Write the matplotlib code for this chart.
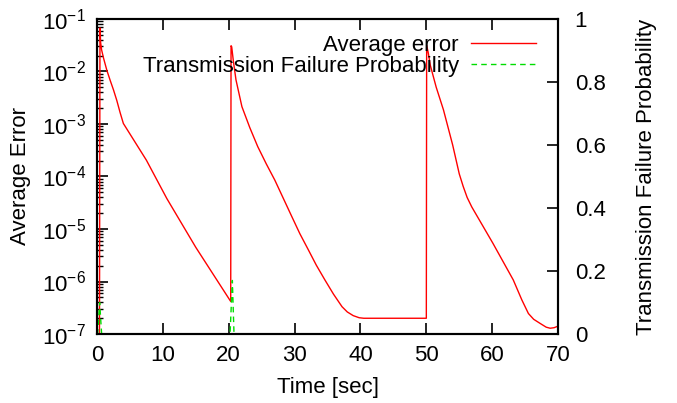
import numpy as np
import matplotlib.pyplot as plt
from matplotlib.ticker import LogLocator, NullFormatter, MultipleLocator

plt.rcParams['font.family'] = ['Liberation Sans', 'DejaVu Sans']
plt.rcParams['font.size'] = 16
plt.rcParams['mathtext.fontset'] = 'custom'
plt.rcParams['mathtext.rm'] = 'Liberation Sans'

# average error (log10 values), three bursts at t=0, 20, 50
err_t = [0.0, 0.35, 0.45, 0.55, 0.7, 1.0, 1.5, 2.0, 2.5, 3.0, 3.5, 4.0, 5.0, 7.5, 10.6, 15.0, 20.3,
         20.35, 20.45, 20.7, 21.1, 22.0, 23.2, 24.4, 25.7, 27.0, 28.3, 29.6, 30.8, 32.1, 33.3,
         34.6, 35.9, 37.2, 38.0, 38.9, 39.8, 40.5, 45.0, 50.0,
         50.05, 50.3, 50.6, 51.5, 52.6, 54.0, 55.0, 55.6, 56.2, 56.9, 60.1, 63.2, 64.5, 65.5,
         66.3, 67.3, 68.2, 68.8, 69.4, 70.0]
err_log = [-9.0, -9.0, -1.17, -1.45, -1.59, -1.75, -1.98, -2.17, -2.35, -2.55, -2.78, -2.99,
           -3.19, -3.69, -4.42, -5.35, -6.38,
           -1.51, -1.53, -1.80, -2.16, -2.67, -3.07, -3.43, -3.76, -4.07, -4.42, -4.77, -5.09,
           -5.40, -5.69, -5.97, -6.24, -6.48, -6.58, -6.65, -6.69, -6.70, -6.70, -6.70,
           -1.50, -1.65, -1.88, -2.30, -2.73, -3.40, -3.95, -4.19, -4.40, -4.58, -5.27, -5.97,
           -6.35, -6.61, -6.72, -6.80, -6.87, -6.89, -6.88, -6.85]
err = 10.0 ** np.array(err_log)

# transmission failure probability
fail_t = [0.0, 0.1, 0.4, 0.7, 20.2, 20.55, 20.8, 70.0]
fail_p = [0.0, 0.0, 0.10, 0.0, 0.0, 0.17, 0.0, 0.0]

fig = plt.figure(figsize=(6.77, 4.03), dpi=100)
ax = fig.add_axes([0.1433, 0.1712, 0.681, 0.7817])
ax2 = ax.twinx()

ax.plot(err_t, err, color='#ff0000', lw=1.0, label='Average error')
ax2.plot(fail_t, fail_p, color='#00dd00', lw=1.0, ls=(0, (4, 3)),
         label='Transmission Failure Probability')

ax.set_yscale('log')
ax.set_ylim(1e-7, 1e-1)
ax.set_xlim(0, 70)
ax2.set_ylim(0, 1)

ax.xaxis.set_major_locator(MultipleLocator(10))
ax.yaxis.set_major_locator(LogLocator(base=10, numticks=10))
ax.yaxis.set_minor_locator(LogLocator(base=10, subs=np.arange(2, 10), numticks=20))
ax.yaxis.set_minor_formatter(NullFormatter())
ax2.set_yticks([0, 0.2, 0.4, 0.6, 0.8, 1])
ax2.set_yticklabels(['0', '0.2', '0.4', '0.6', '0.8', '1'])

ax.tick_params(axis='x', which='both', direction='in', top=True, length=8, width=1.2, pad=8)
ax.tick_params(axis='y', which='major', direction='in', right=False, length=8, width=1.2, pad=8)
ax.tick_params(axis='y', which='minor', direction='in', right=False, length=4, width=1.0)
ax2.tick_params(axis='y', direction='in', length=8, width=1.2, pad=12)

for a in (ax, ax2):
    for s in a.spines.values():
        s.set_linewidth(1.5)

ax.set_xlabel('Time [sec]', labelpad=8)
ax.set_ylabel('Average Error', labelpad=8)
ax2.set_ylabel('Transmission Failure Probability', labelpad=22)

h1, l1 = ax.get_legend_handles_labels()
h2, l2 = ax2.get_legend_handles_labels()
leg = ax2.legend(h1 + h2, l1 + l2, loc='upper right', frameon=False,
                 markerfirst=False, handlelength=2.9, handletextpad=0.55,
                 borderaxespad=0.3, labelspacing=0.0, fontsize=16,
                 bbox_to_anchor=(0.985, 1.0))
for t in leg.get_texts():
    t.set_ha('right')
leg._legend_box.align = 'right'

fig.savefig('out.png', dpi=100)
